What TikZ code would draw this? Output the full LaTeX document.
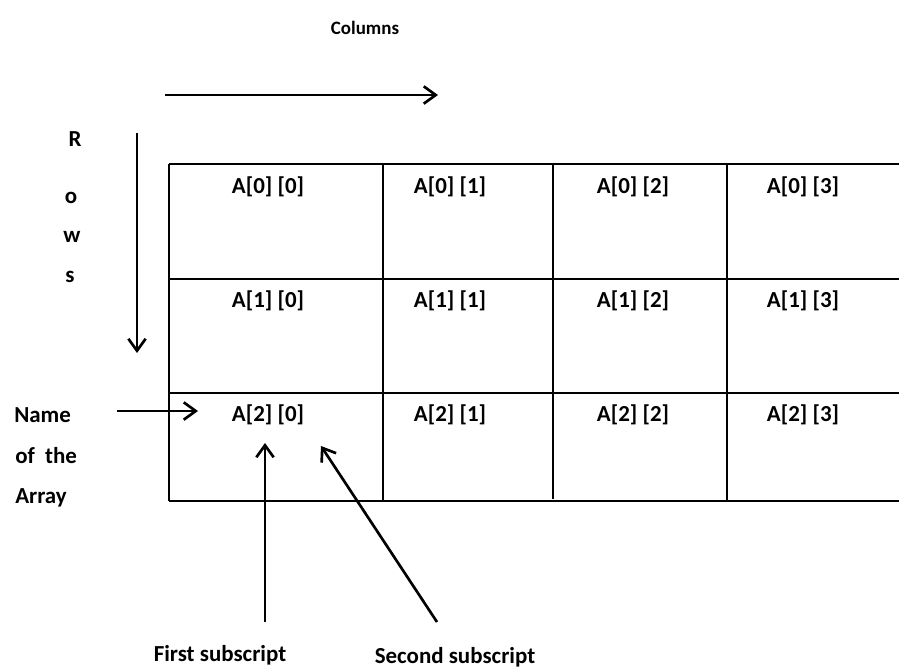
\documentclass[tikz,border=0pt]{standalone}
\usepackage{fontspec}
\setmainfont{Carlito}
\usepackage{tikz}
\usetikzlibrary{arrows.meta}

\begin{document}
\begin{tikzpicture}[x=0.75pt, y=-0.75pt, font=\fontsize{17.2}{20}\selectfont\bfseries,
  ptr/.style={line width=2pt, -{Straight Barb[length=9pt, width=13pt, line width=2pt]}},
  grid line/.style={line width=2pt}]

\useasboundingbox (0,0) rectangle (899,669);

% Grid lines
\draw[grid line] (169,164) -- (899,164);
\draw[grid line] (169,279) -- (899,279);
\draw[grid line] (169,393) -- (899,393);
\draw[grid line] (169,501) -- (899,501);
\draw[grid line] (169,164) -- (169,501);
\draw[grid line] (383,164) -- (383,501);
\draw[grid line] (553,164) -- (553,499);
\draw[grid line] (727,164) -- (727,501);

% Cell labels
\node (c00) at (268,187) {A[0] [0]};
\node (c01) at (450,187) {A[0] [1]};
\node (c02) at (633,187) {A[0] [2]};
\node (c03) at (803,187) {A[0] [3]};

\node (c10) at (268,301) {A[1] [0]};
\node (c11) at (450,301) {A[1] [1]};
\node (c12) at (633,301) {A[1] [2]};
\node (c13) at (803,301) {A[1] [3]};

\node (c20) at (268,415) {A[2] [0]};
\node (c21) at (450,415) {A[2] [1]};
\node (c22) at (633,415) {A[2] [2]};
\node (c23) at (803,415) {A[2] [3]};

% Direction labels
\node[font=\fontsize{14.2}{17}\selectfont\bfseries] (cols) at (365,28) {Columns};
\node (rowR) at (75,139) {R};
\node (rowO) at (71,198) {o};
\node (rowW) at (72,237) {w};
\node (rowS) at (70,277) {s};

\node[anchor=west, inner sep=0pt] (name) at (14,415) {Name};
\node[anchor=west, inner sep=0pt] (of) at (15,456) {of\ \ the};
\node[anchor=west, inner sep=0pt] (array) at (15,498) {Array};

\node[inner sep=0pt] (first) at (220,655) {First subscript};
\node[inner sep=0pt] (second) at (455,657) {Second subscript};

% Arrow ends
\coordinate (colsA) at (165,95);
\coordinate (colsB) at (438,95);
\coordinate (rowsA) at (137,133);
\coordinate (rowsB) at (137,353);
\coordinate (nameA) at (117,411);
\coordinate (nameB) at (198,411);
\coordinate (firstA) at (265,622);
\coordinate (firstB) at (265,443);
\coordinate (secondA) at (437,622);
\coordinate (secondB) at (321,446);

% Arrows
\draw[ptr] (colsA) -- (colsB);
\draw[ptr] (rowsA) -- (rowsB);
\draw[ptr] (nameA) -- (nameB);
\draw[ptr] (firstA) -- (firstB);
\draw[ptr] (secondA) -- (secondB);

\end{tikzpicture}
\end{document}
